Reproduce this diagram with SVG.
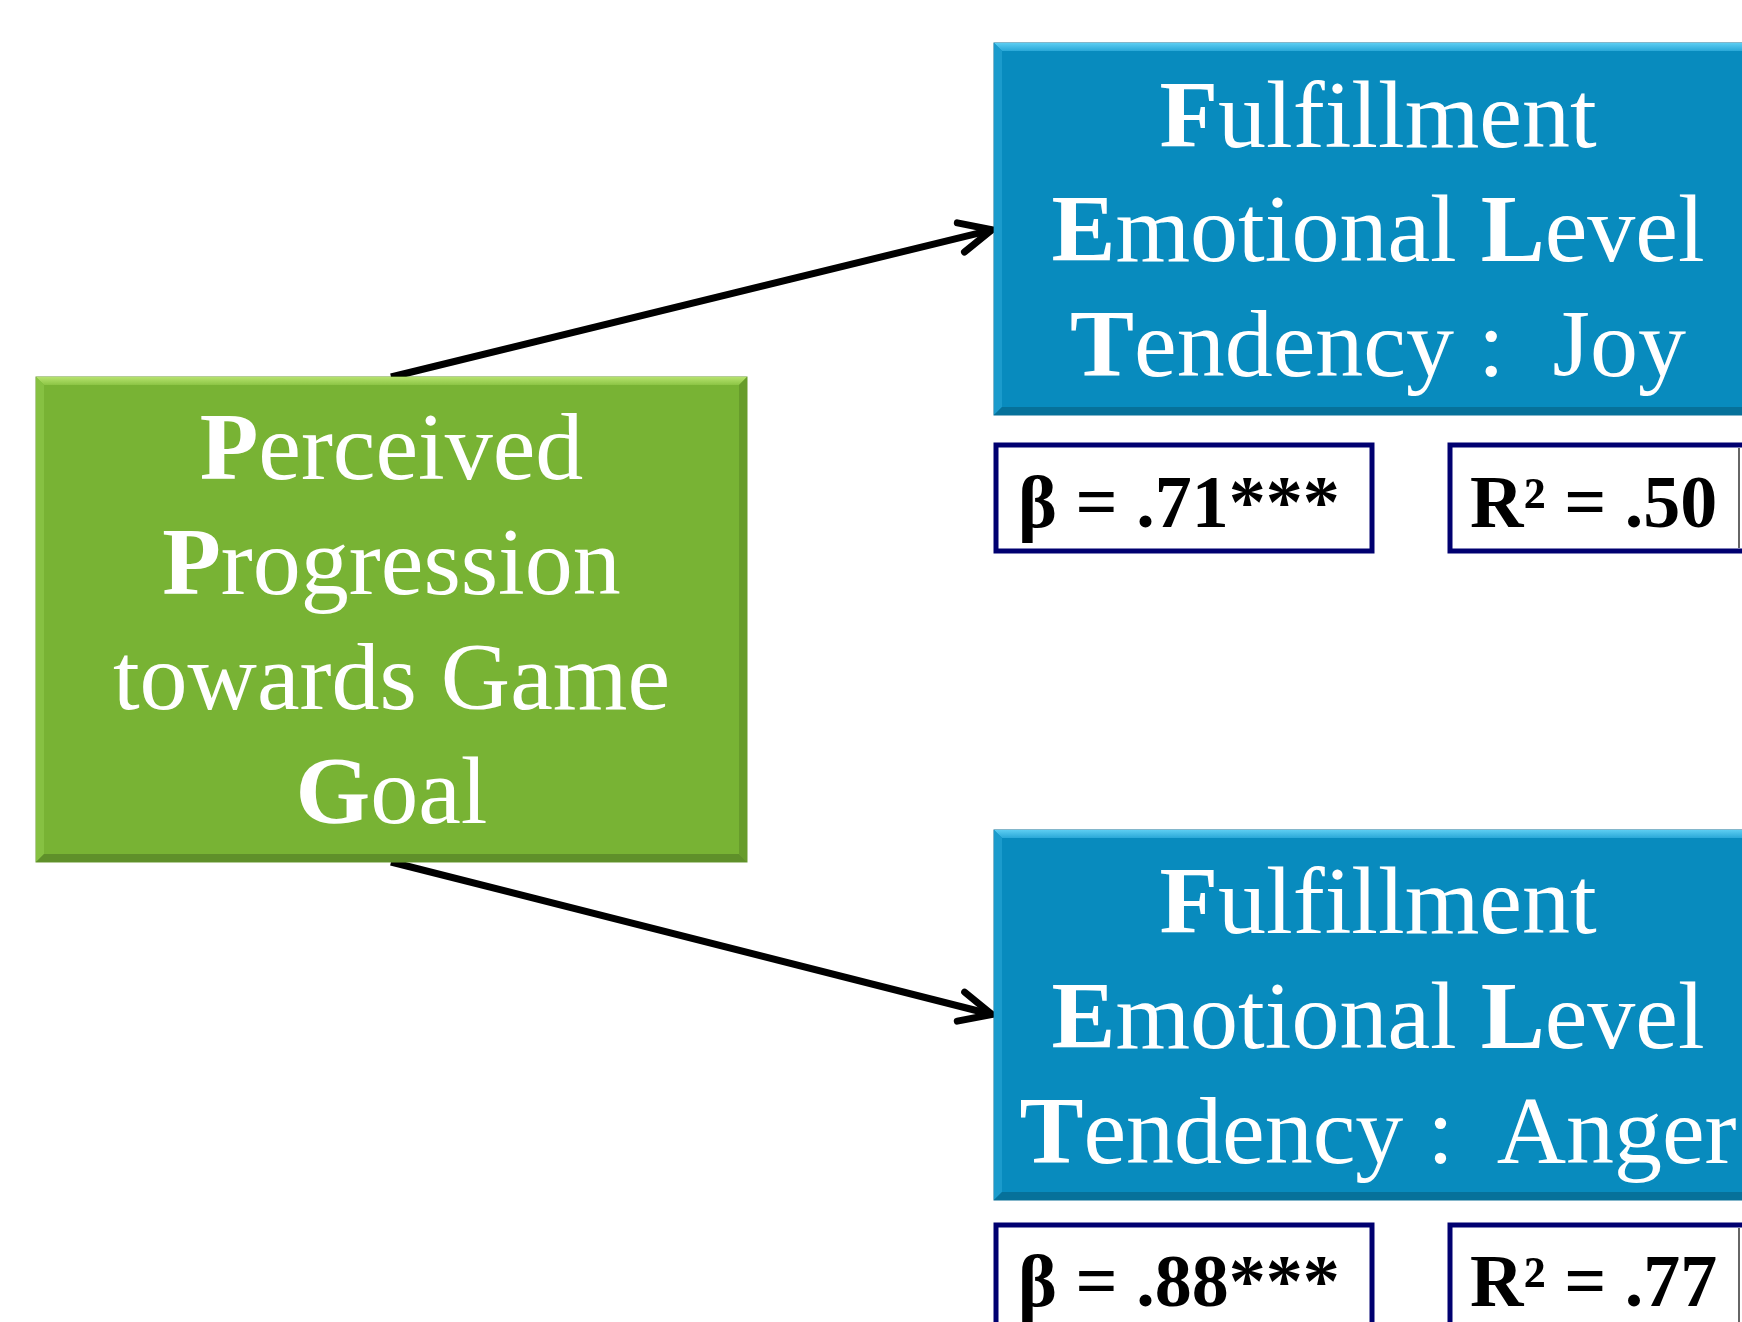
<svg xmlns="http://www.w3.org/2000/svg" width="1742" height="1322" viewBox="0 0 1742 1322">
<style>
.node-text{font-family:"Liberation Serif","Times New Roman",serif;font-size:96px;fill:#ffffff;text-anchor:middle}
.b{font-weight:bold}
.lbl-box{fill:#ffffff;stroke:#000070;stroke-width:5}
.lbl{font-family:"Liberation Serif","Times New Roman",serif;font-size:74px;font-weight:bold;fill:#000000}
.conn{stroke:#000000;stroke-width:7;fill:none;marker-end:url(#chev)}
</style>
<defs>
<marker id="chev" markerUnits="userSpaceOnUse" orient="auto" refX="0" refY="0" markerWidth="80" markerHeight="80" viewBox="-40 -40 80 80" overflow="visible">
<path d="M -32 -15 L 0 0 L -32 15" fill="none" stroke="#000000" stroke-width="7" stroke-linecap="round" stroke-linejoin="miter"/>
</marker>
<linearGradient id="gTop" x1="0" y1="0" x2="0" y2="1"><stop offset="0" stop-color="#b6e26e"/><stop offset="1" stop-color="#8cc545"/></linearGradient>
<linearGradient id="bTop" x1="0" y1="0" x2="0" y2="1"><stop offset="0" stop-color="#5ccdf2"/><stop offset="1" stop-color="#2aa8d8"/></linearGradient>
</defs>
<rect width="1742" height="1322" fill="#ffffff"/>

<g id="connectors">
<line class="conn" x1="391" y1="377" x2="992" y2="229.8"/>
<line class="conn" x1="391" y1="862" x2="992" y2="1014.5"/>
</g>

<g id="node-progression">
<rect x="36" y="377" width="711" height="485" fill="#78b334" stroke="#6a9a30" stroke-width="1"/>
<polygon points="36,377 747,377 739,385 44,385" fill="url(#gTop)"/>
<polygon points="36,377 44,385 44,854 36,862" fill="#86c142"/>
<polygon points="747,377 747,862 739,854 739,385" fill="#679c2b"/>
<polygon points="36,862 747,862 739,854 44,854" fill="#5f902a"/>
<text class="node-text" x="391.5" y="479"><tspan class="b">P</tspan>erceived</text>
<text class="node-text" x="391.5" y="594"><tspan class="b">P</tspan>rogression</text>
<text class="node-text" x="391.5" y="709">towards Game</text>
<text class="node-text" x="391.5" y="823"><tspan class="b">G</tspan>oal</text>
</g>

<g id="node-joy">
<rect x="994" y="43" width="780" height="372" fill="#088bbe" stroke="#0a6f96" stroke-width="1"/>
<polygon points="994,43 1774,43 1766,51 1002,51" fill="url(#bTop)"/>
<polygon points="994,43 1002,51 1002,407 994,415" fill="#1b9bcc"/>
<polygon points="994,415 1774,415 1766,407 1002,407" fill="#06719a"/>
<text class="node-text" x="1378" y="147"><tspan class="b">F</tspan>ulfillment</text>
<text class="node-text" x="1378" y="261"><tspan class="b">E</tspan>motional <tspan class="b">L</tspan>evel</text>
<text class="node-text" x="1378" y="376"><tspan class="b">T</tspan>endency :&#160; Joy</text>
</g>

<g id="label-beta-joy">
<rect class="lbl-box" x="996" y="445" width="376" height="106"/>
<text class="lbl" x="1018" y="527">β = .71***</text>
</g>
<g id="label-r2-joy">
<rect class="lbl-box" x="1450" y="445" width="320" height="106"/>
<line x1="1739" y1="448" x2="1739" y2="548" stroke="#333333" stroke-width="1.5"/>
<text class="lbl" x="1470" y="527">R² = .50</text>
</g>

<g id="node-anger">
<rect x="994" y="830" width="780" height="370" fill="#088bbe" stroke="#0a6f96" stroke-width="1"/>
<polygon points="994,830 1774,830 1766,838 1002,838" fill="url(#bTop)"/>
<polygon points="994,830 1002,838 1002,1192 994,1200" fill="#1b9bcc"/>
<polygon points="994,1200 1774,1200 1766,1192 1002,1192" fill="#06719a"/>
<text class="node-text" x="1378" y="933"><tspan class="b">F</tspan>ulfillment</text>
<text class="node-text" x="1378" y="1048"><tspan class="b">E</tspan>motional <tspan class="b">L</tspan>evel</text>
<text class="node-text" x="1378" y="1163"><tspan class="b">T</tspan>endency :&#160; Anger</text>
</g>

<g id="label-beta-anger">
<rect class="lbl-box" x="996" y="1225" width="376" height="130"/>
<text class="lbl" x="1018" y="1306">β = .88***</text>
</g>
<g id="label-r2-anger">
<rect class="lbl-box" x="1450" y="1225" width="320" height="130"/>
<line x1="1739" y1="1228" x2="1739" y2="1322" stroke="#333333" stroke-width="1.5"/>
<text class="lbl" x="1470" y="1306">R² = .77</text>
</g>
</svg>
